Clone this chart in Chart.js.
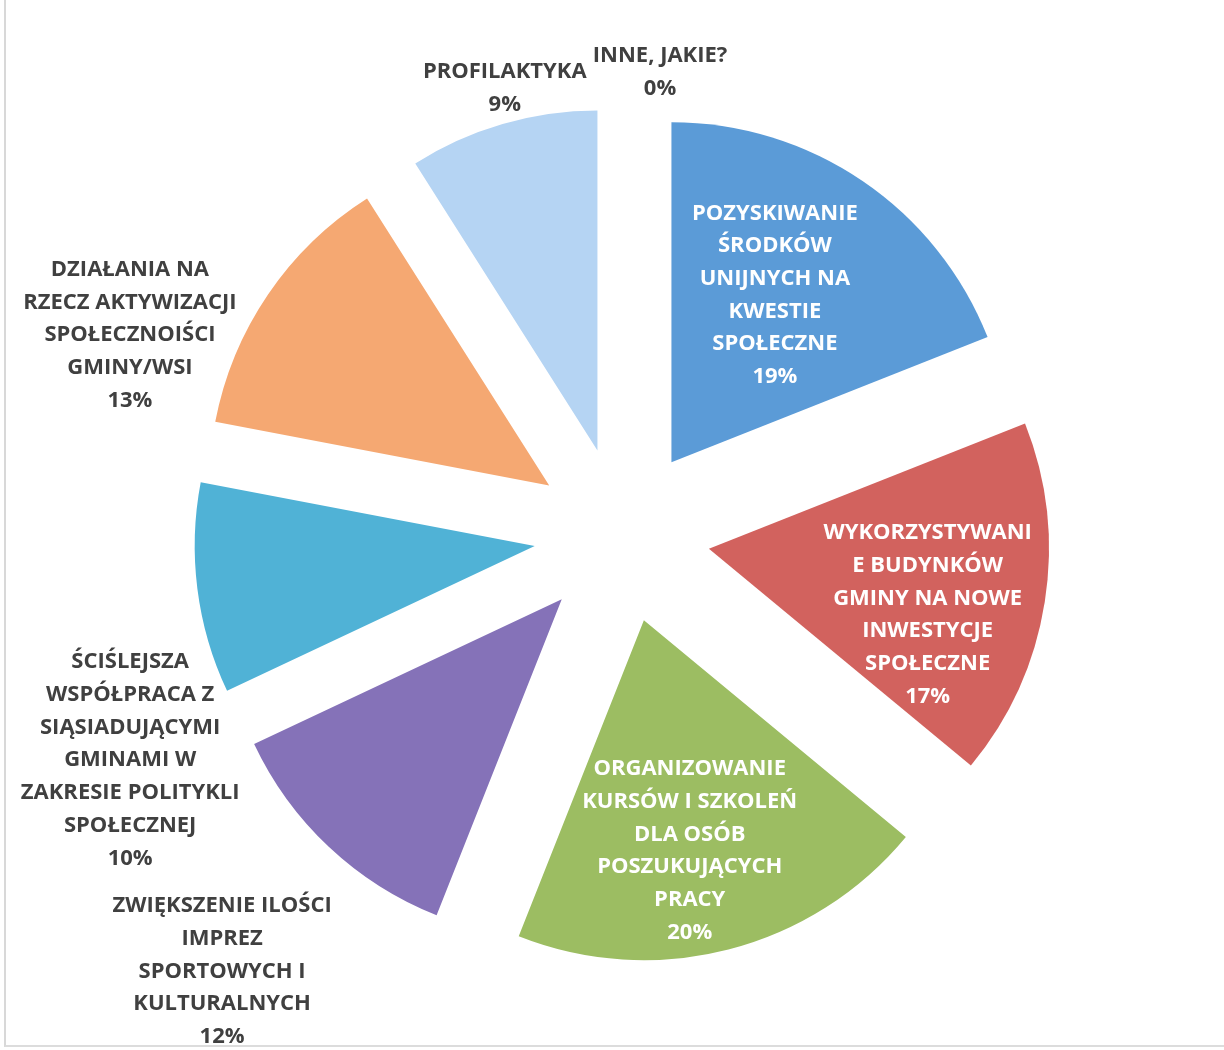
<!DOCTYPE html>
<html><head><meta charset="utf-8">
<script src="https://cdn.jsdelivr.net/npm/chart.js@4/dist/chart.umd.min.js"></script>
<style>
html,body{margin:0;padding:0;background:#fff;}
#wrap{position:relative;width:1224px;height:1050px;overflow:hidden;}
#frame{position:absolute;left:4px;top:-2px;width:1240px;height:1047px;border-left:2px solid #d8d8d8;border-bottom:2px solid #dcdcdc;}
canvas{display:block;position:absolute;left:0;top:0;}
</style></head><body>
<div id="wrap"><div id="frame"></div><canvas id="c" width="1224" height="1050"></canvas></div>
<script>
// ---- data ----
const categories = [
  "POZYSKIWANIE\nŚRODKÓW\nUNIJNYCH NA\nKWESTIE\nSPOŁECZNE",
  "WYKORZYSTYWANI\nE BUDYNKÓW\nGMINY NA NOWE\nINWESTYCJE\nSPOŁECZNE",
  "ORGANIZOWANIE\nKURSÓW I SZKOLEŃ\nDLA OSÓB\nPOSZUKUJĄCYCH\nPRACY",
  "ZWIĘKSZENIE ILOŚCI\nIMPREZ\nSPORTOWYCH I\nKULTURALNYCH",
  "ŚCIŚLEJSZA\nWSPÓŁPRACA Z\nSIĄSIADUJĄCYMI\nGMINAMI W\nZAKRESIE POLITYKLI\nSPOŁECZNEJ",
  "DZIAŁANIA NA\nRZECZ AKTYWIZACJI\nSPOŁECZNOIŚCI\nGMINY/WSI",
  "PROFILAKTYKA",
  "INNE, JAKIE?"
];
const values = [19, 17, 20, 12, 10, 13, 9, 0];

// ---- styles / layout ----
const colors = ["#5B9BD7", "#D2625E", "#9CBD62", "#8572B8", "#50B2D6", "#F5A872", "#B5D4F3", "#E8A6A4"];
const labelInside = [true, true, true, false, false, false, false, false];
const labelShiftDeg = [-1.7, 5.6, 2.3, -0.7, -17.4, -12.1, 1.5, 4.7];
const labelDist = [0.837, 0.929, 0.95, 1.741, 1.591, 1.562, 1.359, 1.366];
const EXPLODE = 88;
const RADIUS = 340;
const LINE_H = 32.7;
const FONT = "bold 22px 'Open Sans'";

const explodePlugin = {
  id: 'explode',
  afterDatasetUpdate(chart, args) {
    args.meta.data.forEach(arc => {
      if (arc._expl) return;
      const orig = arc.draw;
      arc.draw = function(ctx) {
        const mid = (this.startAngle + this.endAngle) / 2;
        ctx.save();
        ctx.translate(Math.cos(mid) * EXPLODE, Math.sin(mid) * EXPLODE);
        orig.call(this, ctx);
        ctx.restore();
      };
      arc._expl = true;
    });
  }
};

const labelPlugin = {
  id: 'labels',
  afterDatasetsDraw(chart) {
    const meta = chart.getDatasetMeta(0);
    const ctx = chart.ctx;
    const total = values.reduce((a, b) => a + b, 0);
    meta.data.forEach((arc, i) => {
      const ang = (arc.startAngle + arc.endAngle) / 2 + labelShiftDeg[i] * Math.PI / 180;
      const d = labelDist[i] * arc.outerRadius;
      const x = arc.x + Math.cos(ang) * d;
      const y = arc.y + Math.sin(ang) * d;
      const lines = categories[i].split('\n').concat([Math.round(values[i] / total * 100) + '%']);
      ctx.save();
      ctx.font = FONT;
      ctx.fillStyle = labelInside[i] ? '#ffffff' : '#404040';
      ctx.textAlign = 'center';
      ctx.textBaseline = 'middle';
      lines.forEach((t, k) => ctx.fillText(t, x, y + (k - (lines.length - 1) / 2) * LINE_H));
      ctx.restore();
    });
  }
};

new Chart(document.getElementById('c'), {
  type: 'pie',
  data: {
    labels: categories,
    datasets: [{
      data: values,
      backgroundColor: colors,
      borderWidth: 0,
      hoverOffset: 0
    }]
  },
  options: {
    responsive: false,
    animation: false,
    events: [],
    radius: RADIUS,
    layout: { padding: { left: 20, right: 0, top: 20, bottom: 0 } },
    plugins: { legend: { display: false }, tooltip: { enabled: false } }
  },
  plugins: [explodePlugin, labelPlugin]
});
</script>
</body></html>
